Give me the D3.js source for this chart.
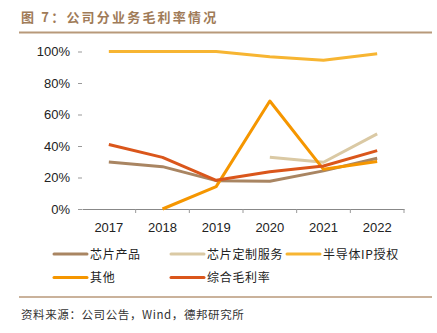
<!DOCTYPE html>
<html><head><meta charset="utf-8">
<script src="https://cdn.jsdelivr.net/npm/d3@7"></script>
<style>body{margin:0;background:#fff;}</style>
</head><body>
<script>
const years = ["2017","2018","2019","2020","2021","2022"];
const yTicks = [0,20,40,60,80,100];
const seriesNames = ["芯片产品","芯片定制服务","半导体IP授权","其他","综合毛利率"];
const chipProducts = [29.9,26.9,18.0,17.6,24.2,32.2];
const chipCustom = [null,null,null,32.8,29.7,47.7];
const ipLicense = [100,100,100,96.6,94.5,98.5];
const others = [null,0,14.2,68.6,25.2,30.1];
const overall = [40.9,32.8,18.2,23.7,27.3,37.1];
const colors = ["#a98562","#dac9a4","#f7b532","#f59600","#da561b"];

const W=437,H=333;
const svg=d3.select("body").append("svg").attr("width",W).attr("height",H);
svg.append("rect").attr("width",W).attr("height",H).attr("fill","#fff");

svg.append("text").attr("x",21).attr("y",21.5).text("图 7：公司分业务毛利率情况")
  .attr("font-family","Noto Sans CJK SC").attr("font-size",13).attr("font-weight","bold")
  .attr("letter-spacing",2.2).attr("fill","#a07b58");
svg.append("line").attr("x1",19).attr("x2",432).attr("y1",32.5).attr("y2",32.5).attr("stroke","#b8997a").attr("stroke-width",2);
svg.append("line").attr("x1",19).attr("x2",432).attr("y1",297).attr("y2",297).attr("stroke","#b8997a").attr("stroke-width",1.5);
svg.append("text").attr("x",21).attr("y",319).text("资料来源：公司公告，Wind，德邦研究所")
  .attr("font-family","Noto Sans CJK SC").attr("font-size",11.5).attr("letter-spacing",0.6).attr("fill","#333");

const x=d3.scaleBand().domain(years).range([82,404]);
const y=d3.scaleLinear().domain([0,100]).range([209,51.5]);

const g=svg.append("g");
const yAxis=g.append("g").attr("transform","translate(82,0)")
  .call(d3.axisLeft(y).tickValues(yTicks).tickFormat(d=>d+"%").tickSize(4).tickPadding(8));
yAxis.select(".domain").remove();
yAxis.selectAll("line").attr("stroke","#999");
yAxis.selectAll("text").attr("font-family","Liberation Sans, Arial").attr("font-size",13).attr("fill","#222");

const xAxis=g.append("g").attr("transform","translate(0,209)")
  .call(d3.axisBottom(x).tickSize(0).tickPadding(14));
xAxis.select(".domain").attr("stroke","#888");
xAxis.selectAll("text").attr("font-family","Liberation Sans, Arial").attr("font-size",13).attr("fill","#222");
const bounds=years.map(d=>x(d)).concat([x.range()[1]]);
g.selectAll(".bt").data(bounds.slice(1)).join("line")
  .attr("x1",d=>d).attr("x2",d=>d).attr("y1",209).attr("y2",213).attr("stroke","#999");

const all=[chipProducts,chipCustom,ipLicense,others,overall];
const line=d3.line().defined(d=>d.v!=null).x(d=>x(d.y)+x.bandwidth()/2).y(d=>y(d.v));
all.forEach((arr,i)=>{
  g.append("path").datum(arr.map((v,j)=>({y:years[j],v})))
   .attr("d",line).attr("fill","none").attr("stroke",colors[i]).attr("stroke-width",3)
   .attr("stroke-linejoin","round");
});

const legPos=[[54,254],[171,254],[287,254],[54,277.5],[171,277.5]];
seriesNames.forEach((n,i)=>{
  const [lx,ly]=legPos[i];
  svg.append("line").attr("x1",lx).attr("x2",lx+33).attr("y1",ly).attr("y2",ly)
    .attr("stroke",colors[i]).attr("stroke-width",3).attr("stroke-linecap","round");
  svg.append("text").attr("x",lx+36).attr("y",ly+4.5).text(n)
    .attr("font-family","Noto Sans CJK SC").attr("font-size",12).attr("letter-spacing",0.7).attr("fill","#222");
});
</script>
</body></html>
